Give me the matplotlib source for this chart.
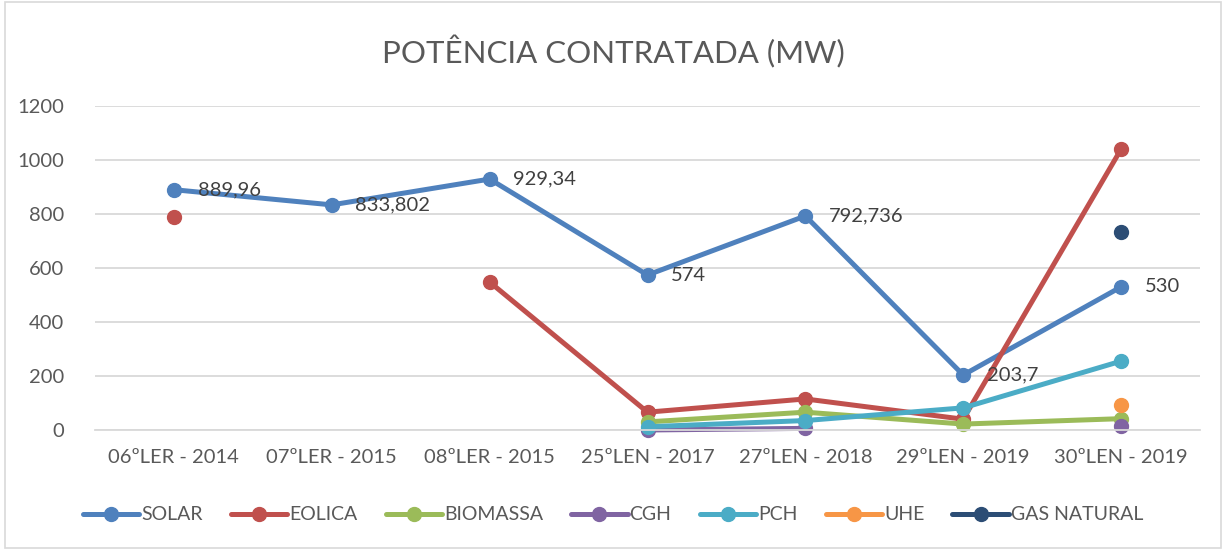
import numpy as np
import matplotlib.pyplot as plt
from matplotlib.patches import Rectangle

plt.rcParams['font.family'] = ['Lato', 'DejaVu Sans']

# data
categories = ["06ºLER - 2014", "07ºLER - 2015", "08ºLER - 2015", "25ºLEN - 2017",
              "27ºLEN - 2018", "29ºLEN - 2019", "30ºLEN - 2019"]
nan = np.nan
solar = [889.96, 833.802, 929.34, 574, 792.736, 203.7, 530]
eolica = [790, nan, 548, 66, 115, 40, 1040]
biomassa = [nan, nan, nan, 30, 66, 22, 42]
cgh = [nan, nan, nan, 0, 6, nan, 15]
pch = [nan, nan, nan, 12, 35, 82, 255]
uhe = [nan, nan, nan, nan, nan, nan, 93]
gas_natural = [nan, nan, nan, nan, nan, nan, 733]
solar_labels = ["889,96", "833,802", "929,34", "574", "792,736", "203,7", "530"]

series = [
    ("SOLAR", solar, "#4F81BD"),
    ("EOLICA", eolica, "#C0504D"),
    ("BIOMASSA", biomassa, "#9BBB59"),
    ("CGH", cgh, "#8064A2"),
    ("PCH", pch, "#4BACC6"),
    ("UHE", uhe, "#F79646"),
    ("GAS NATURAL", gas_natural, "#2C4D75"),
]

fig = plt.figure(figsize=(12.26, 5.5), dpi=100)
ax = fig.add_axes([95 / 1226, 1 - 430 / 550, 1105 / 1226, 324 / 550])

x = np.arange(len(categories))
for name, vals, color in series:
    ax.plot(x, vals, color=color, lw=3.6, marker="o", ms=10, label=name,
            clip_on=False, solid_capstyle="round")

for xi, v, lab in zip(x, solar, solar_labels):
    ax.annotate(lab, (xi, v), xytext=(17, 0), textcoords="offset points",
                va="center", ha="left", fontsize=14.5, color="#404040", zorder=10)

ax.set_xlim(-0.5, len(categories) - 0.5)
ax.set_ylim(0, 1200)
ax.set_yticks(range(0, 1201, 200))
ax.set_xticks(x)
ax.set_xticklabels(categories)
ax.grid(axis="y", color="#D9D9D9", lw=1.3)
ax.set_axisbelow(True)
for s in ["top", "right", "left"]:
    ax.spines[s].set_visible(False)
ax.spines["bottom"].set_color("#D9D9D9")
ax.spines["bottom"].set_linewidth(1.3)
ax.tick_params(axis="both", length=0, labelsize=14.5, labelcolor="#595959")
ax.tick_params(axis="x", pad=14)
ax.tick_params(axis="y", pad=22)

fig.text(0.5, 1 - 52 / 550, "POTÊNCIA CONTRATADA (MW)", ha="center", va="center",
         fontsize=22.5, color="#595959")

fig.legend(loc="center", bbox_to_anchor=(0.5, 1 - 515 / 550), ncol=7, frameon=False,
           fontsize=14, labelcolor="#595959", handlelength=2.9, handletextpad=0.1,
           columnspacing=1.45)

fig.patches.append(Rectangle((0.004, 0.004), 0.992, 0.992, transform=fig.transFigure,
                             fill=False, edgecolor="#D9D9D9", lw=1.2))

fig.savefig("out.png", dpi=100)
